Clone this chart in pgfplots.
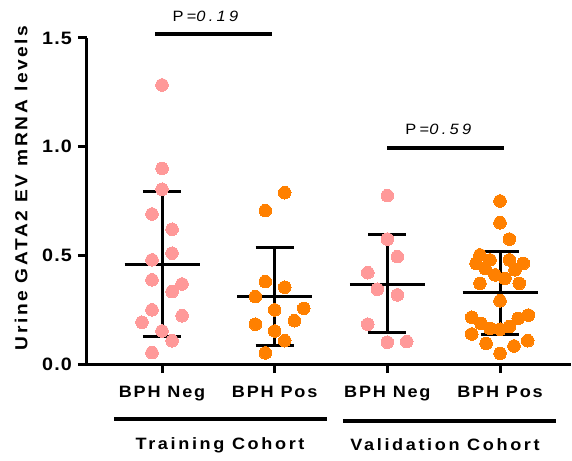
\documentclass[border=0pt]{standalone}
\usepackage{fontspec}
\setmainfont{Liberation Sans}
\newfontfamily\tickfont[FakeStretch=1.1, LetterSpace=6]{Liberation Sans}
\newfontfamily\catfont[FakeStretch=1.1, LetterSpace=11]{Liberation Sans}
\newfontfamily\labfont[FakeStretch=1.1, LetterSpace=15]{Liberation Sans}
\newfontfamily\cohfont[FakeStretch=1.1, LetterSpace=16]{Liberation Sans}
\newfontfamily\pfont[FakeStretch=1.1, LetterSpace=22]{Liberation Sans}
\usepackage{pgfplots}
\pgfplotsset{compat=1.18}
\definecolor{pinkc}{RGB}{255,153,153}
\definecolor{orangec}{RGB}{255,128,0}
\begin{document}
\begin{tikzpicture}
\useasboundingbox (-87bp,-97bp) rectangle (485bp,364bp);
\begin{axis}[
  at={(0,0)}, anchor=south west,
  scale only axis, width=484bp, height=326bp,
  xmin=-0.666, xmax=3.63, ymin=0, ymax=1.5,
  clip=false,
  axis x line=bottom, axis y line=left,
  axis line style={line width=3bp, -, black},
  tick align=outside, major tick length=9bp,
  tick style={line width=3bp, black},
  ytick={0,0.5,1,1.5}, yticklabels={0.0,0.5,1.0,1.5},
  xtick={0,1,2,3}, xticklabels={BPH Neg,BPH Pos,BPH Neg,BPH Pos},
  yticklabel style={font=\tickfont\bfseries\fontsize{18}{18}\selectfont, inner sep=0pt, xshift=-6bp},
  xticklabel style={font=\catfont\bfseries\fontsize{16.5}{16.5}\selectfont, inner sep=0pt, yshift=-13bp},
  unbounded coords=jump,
]
% mean and SD bars
\addplot[black, line width=3bp, no markers] coordinates {(-0.333,0.459) (0.333,0.459) (nan,nan) (0,0.126) (0,0.793) (nan,nan) (-0.169,0.793) (0.169,0.793) (nan,nan) (-0.169,0.126) (0.169,0.126)};
\addplot[black, line width=3bp, no markers] coordinates {(0.667,0.310) (1.333,0.310) (nan,nan) (1,0.084) (1,0.535) (nan,nan) (0.831,0.535) (1.169,0.535) (nan,nan) (0.831,0.084) (1.169,0.084)};
\addplot[black, line width=3bp, no markers] coordinates {(1.667,0.368) (2.333,0.368) (nan,nan) (2,0.144) (2,0.597) (nan,nan) (1.831,0.597) (2.169,0.597) (nan,nan) (1.831,0.144) (2.169,0.144)};
\addplot[black, line width=3bp, no markers] coordinates {(2.667,0.328) (3.333,0.328) (nan,nan) (3,0.138) (3,0.517) (nan,nan) (2.831,0.517) (3.169,0.517) (nan,nan) (2.831,0.138) (3.169,0.138)};
% points
\addplot[only marks, mark=*, mark size=6.3bp, mark options={fill=pinkc, draw=pinkc, line width=0pt}] coordinates {
(0,1.284) (0,0.90) (0,0.804) (-0.089,0.69) (0.089,0.62) (0.089,0.51) (-0.089,0.479) (-0.089,0.387) (0.178,0.368) (0.089,0.333) (-0.089,0.249) (0.178,0.222) (-0.178,0.192) (0,0.152) (0.089,0.107) (-0.089,0.052)};
\addplot[only marks, mark=*, mark size=6.3bp, mark options={fill=orangec, draw=orangec, line width=0pt}] coordinates {
(1.089,0.788) (0.917,0.706) (0.917,0.379) (1.089,0.353) (0.829,0.310) (1,0.249) (1.258,0.256) (0.829,0.183) (1.175,0.199) (1,0.152) (1.089,0.107) (0.917,0.051)};
\addplot[only marks, mark=*, mark size=6.3bp, mark options={fill=pinkc, draw=pinkc, line width=0pt}] coordinates {
(2,0.775) (2,0.575) (2.089,0.494) (1.826,0.420) (1.911,0.344) (2.089,0.318) (1.826,0.183) (2,0.100) (2.172,0.103)};
\addplot[only marks, mark=*, mark size=6.3bp, mark options={fill=orangec, draw=orangec, line width=0pt}] coordinates {
(3,0.750) (3,0.650) (3.083,0.575) (2.822,0.502) (2.911,0.479) (2.787,0.463) (3.083,0.479) (3.207,0.463) (2.867,0.440) (3.133,0.433) (2.956,0.410) (3.044,0.394) (2.822,0.371) (3.171,0.371) (3,0.291) (2.749,0.215) (3.251,0.225) (2.831,0.187) (3.162,0.210) (2.911,0.164) (3,0.160) (3.083,0.172) (2.749,0.138) (2.876,0.095) (3.124,0.083) (3.246,0.107) (3,0.049)};
% significance brackets
\addplot[black, line width=4bp, no markers] coordinates {(-0.062,1.518) (0.976,1.518)};
\addplot[black, line width=4bp, no markers] coordinates {(1.997,0.994) (3.036,0.994)};
\node[anchor=base, inner sep=0pt, font=\pfont\fontsize{15}{15}\selectfont] at (axis cs:0.40,1.574) {P=\textit{0.19}};
\node[anchor=base, inner sep=0pt, font=\pfont\fontsize{15}{15}\selectfont] at (axis cs:2.467,1.058) {P=\textit{0.59}};
% cohort groups
\addplot[black, line width=4bp, no markers] coordinates {(-0.426,-0.253) (1.464,-0.253)};
\addplot[black, line width=4bp, no markers] coordinates {(1.606,-0.262) (3.497,-0.262)};
\node[inner sep=0pt, font=\cohfont\bfseries\fontsize{16.5}{16.5}\selectfont] at (axis cs:0.515,-0.373) {Training Cohort};
\node[inner sep=0pt, font=\cohfont\bfseries\fontsize{16.5}{16.5}\selectfont] at (axis cs:2.512,-0.373) {Validation Cohort};
% y label
\node[rotate=90, inner sep=0pt, font=\labfont\bfseries\fontsize{17.5}{17.5}\selectfont] at (axis cs:-1.251,0.81) {Urine GATA2 EV mRNA levels};
\end{axis}
\end{tikzpicture}
\end{document}
